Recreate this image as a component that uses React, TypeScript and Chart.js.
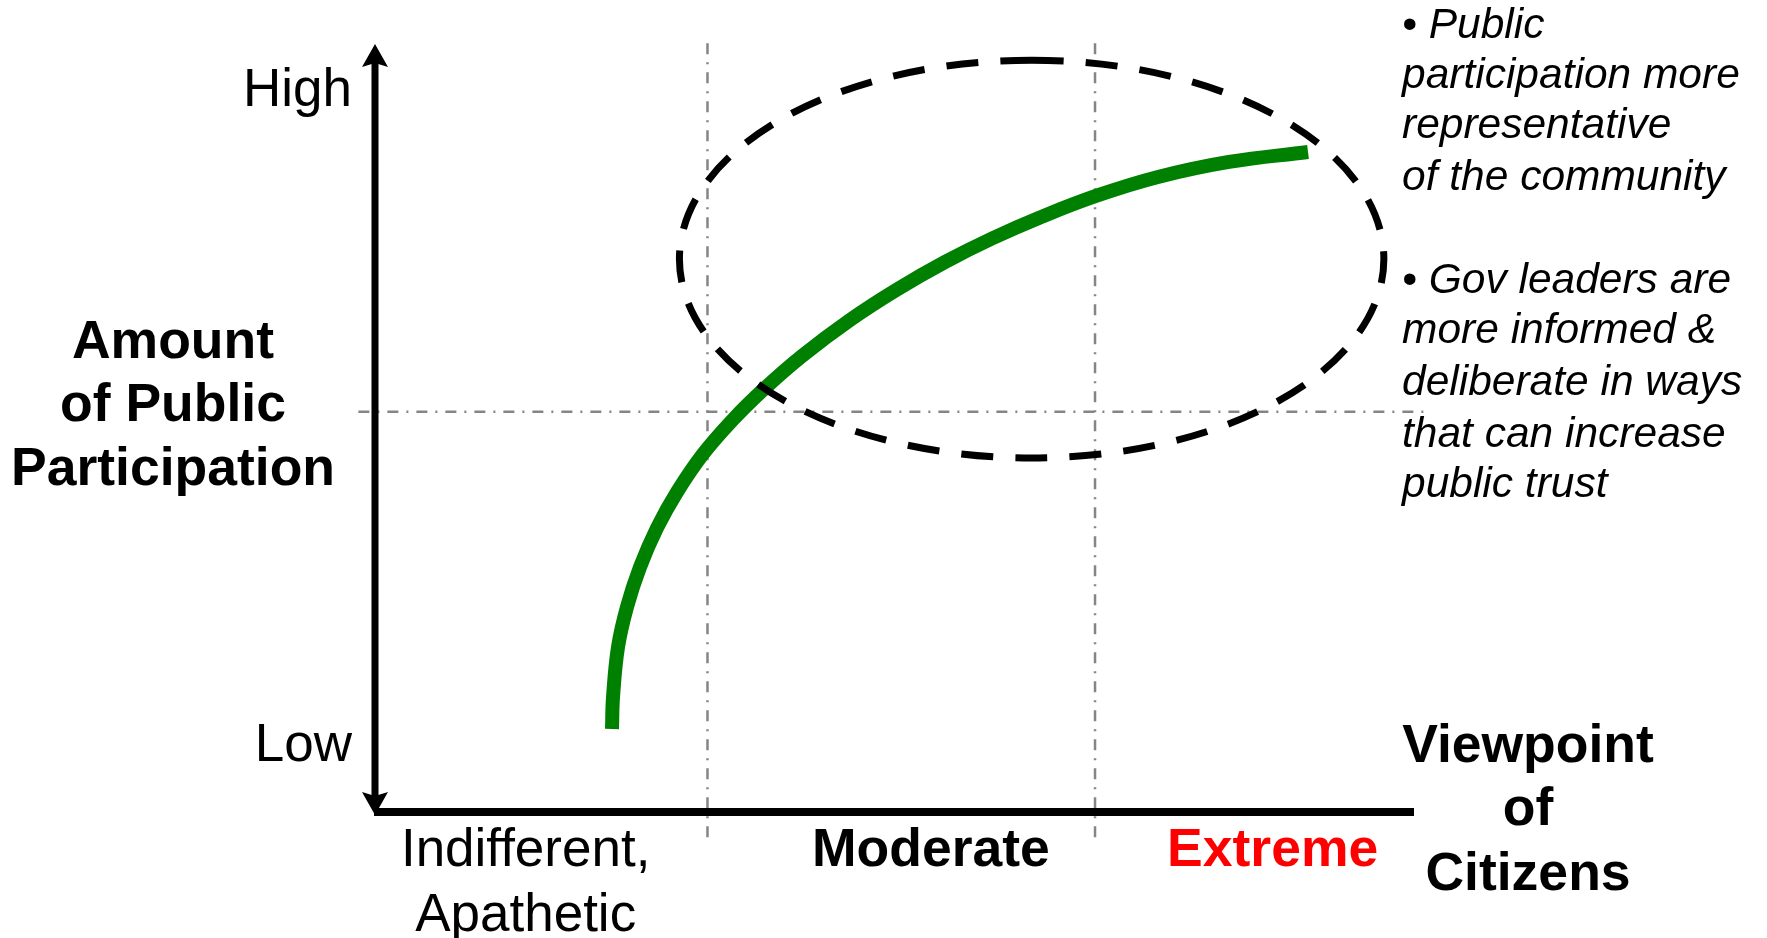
import React, { useEffect, useRef } from 'react';
import { Chart, registerables } from 'chart.js';

Chart.register(...registerables);

// ---- data ----
const curveX = [22.81, 22.91, 23.39, 24.25, 25.51, 27.14, 29.07, 31.57, 34.46, 37.44, 41.10, 45.72, 50.24, 54.86, 59.38, 64.00, 69.39, 75.36, 82.19, 89.80];
const curveY = [10.81, 14.97, 21.48, 26.69, 31.90, 36.98, 41.67, 46.61, 51.11, 55.08, 59.38, 64.06, 68.03, 71.61, 74.67, 77.41, 80.21, 82.68, 84.64, 85.94];

const guideXValues = [32, 69.3];
const guideXSpan = [-4.0, 100.1];
const guideYValues = [52.1];
const guideYSpan = [-1.6, 100.9];

const ellipseCenter = [63.2, 72.0];
const ellipseRadii = [33.9, 25.9];

const yTickLabels = ['High', 'Low'];
const yTickValues = [91.9, 6.6];

const categoryLabels = [['Indifferent,', 'Apathetic'], ['Moderate'], ['Extreme']];
const categoryCenters = [14.5, 53.5, 86.4];
const categoryColors = ['#000000', '#000000', '#ff0000'];
const categoryWeights = ['normal', 'bold', 'bold'];

const yTitleLines = ['Amount', 'of Public', 'Participation'];
const xTitleLines = ['Viewpoint', 'of', 'Citizens'];

const noteLines = [
  '• Public',
  'participation more',
  'representative',
  'of the community',
  '• Gov leaders are',
  'more informed &',
  'deliberate in ways',
  'that can increase',
  'public trust',
];

const FONT = '"Liberation Sans", Arial, Helvetica, sans-serif';

const overlayPlugin = {
  id: 'overlay',
  afterDatasetsDraw(chart: any) {
    const ctx: CanvasRenderingContext2D = chart.ctx;
    const xs = chart.scales.x;
    const ys = chart.scales.y;
    ctx.save();

    // dashed ellipse (seam at top, dashes merge there)
    const cx = xs.getPixelForValue(ellipseCenter[0]);
    const cy = ys.getPixelForValue(ellipseCenter[1]);
    const rx = xs.getPixelForValue(ellipseCenter[0] + ellipseRadii[0]) - cx;
    const ry = cy - ys.getPixelForValue(ellipseCenter[1] + ellipseRadii[1]);
    const per = Math.PI * (3 * (rx + ry) - Math.sqrt((3 * rx + ry) * (rx + 3 * ry)));
    const dash = 32;
    const n = Math.round((per - dash) / 54);
    const gap = (per - dash) / n - dash;
    ctx.beginPath();
    ctx.setLineDash([dash, gap]);
    ctx.lineDashOffset = 0;
    ctx.lineWidth = 7;
    ctx.strokeStyle = '#000';
    ctx.ellipse(cx, cy, rx, ry, 0, -Math.PI / 2, (3 * Math.PI) / 2);
    ctx.stroke();
    ctx.setLineDash([]);

    // axes with arrows
    const x0 = xs.getPixelForValue(0);
    const x1 = xs.getPixelForValue(100);
    const yT = ys.getPixelForValue(100);
    const yB = ys.getPixelForValue(0);
    ctx.fillStyle = '#000';
    ctx.strokeStyle = '#000';
    ctx.lineWidth = 7;
    ctx.beginPath();
    ctx.moveTo(x0, yT + 18);
    ctx.lineTo(x0, yB - 16);
    ctx.stroke();
    ctx.beginPath();
    ctx.moveTo(x0, yT);
    ctx.lineTo(x0 + 13, yT + 23);
    ctx.lineTo(x0, yT + 19);
    ctx.lineTo(x0 - 13, yT + 23);
    ctx.closePath();
    ctx.fill();
    ctx.beginPath();
    ctx.moveTo(x0, yB + 3);
    ctx.lineTo(x0 + 13, yB - 20);
    ctx.lineTo(x0, yB - 16);
    ctx.lineTo(x0 - 13, yB - 20);
    ctx.closePath();
    ctx.fill();
    ctx.lineWidth = 8;
    ctx.beginPath();
    ctx.moveTo(x0 - 1, yB);
    ctx.lineTo(x1, yB);
    ctx.stroke();

    // y tick labels
    ctx.textBaseline = 'alphabetic';
    ctx.font = `53px ${FONT}`;
    ctx.textAlign = 'right';
    yTickLabels.forEach((t, i) => {
      ctx.fillText(t, x0 - 23, ys.getPixelForValue(yTickValues[i]));
    });

    // y title
    ctx.font = `bold 53.5px ${FONT}`;
    ctx.textAlign = 'center';
    const yTitleBase = [358, 421, 485];
    yTitleLines.forEach((t, i) => ctx.fillText(t, 173, yTitleBase[i]));

    // categories
    categoryLabels.forEach((lines, i) => {
      ctx.font = `${categoryWeights[i]} ${categoryWeights[i] === 'bold' ? 53.5 : 53}px ${FONT}`;
      ctx.fillStyle = categoryColors[i];
      const px = xs.getPixelForValue(categoryCenters[i]);
      lines.forEach((t, j) => ctx.fillText(t, px, yB + 54 + j * 65));
    });

    // x title
    ctx.fillStyle = '#000';
    ctx.font = `bold 53.5px ${FONT}`;
    const xTitleBase = [762, 825, 890];
    xTitleLines.forEach((t, i) => ctx.fillText(t, 1528, xTitleBase[i]));

    // notes
    ctx.font = `italic 42.5px ${FONT}`;
    ctx.textAlign = 'left';
    const noteBase = [38, 88, 138, 190, 293, 343, 395, 447, 497];
    noteLines.forEach((t, i) => ctx.fillText(t, 1402, noteBase[i]));

    ctx.restore();
  },
};

export default function App() {
  const ref = useRef<HTMLCanvasElement | null>(null);

  useEffect(() => {
    if (!ref.current) return;
    const guideStyle = {
      borderColor: '#858585',
      borderWidth: 2.5,
      borderDash: [11, 8, 2, 8],
      pointRadius: 0,
      showLine: true,
      clip: false as any,
      tension: 0,
    };
    const datasets: any[] = [
      {
        label: 'participation',
        data: curveX.map((x, i) => ({ x, y: curveY[i] })),
        borderColor: '#008000',
        borderWidth: 14,
        borderCapStyle: 'butt',
        borderJoinStyle: 'round',
        pointRadius: 0,
        showLine: true,
        cubicInterpolationMode: 'default',
        tension: 0.4,
        clip: false,
      },
      ...guideXValues.map((gx) => ({
        ...guideStyle,
        label: 'vguide',
        data: [
          { x: gx, y: guideXSpan[1] },
          { x: gx, y: guideXSpan[0] },
        ],
      })),
      ...guideYValues.map((gy) => ({
        ...guideStyle,
        label: 'hguide',
        data: [
          { x: guideYSpan[0], y: gy },
          { x: guideYSpan[1], y: gy },
        ],
      })),
    ];
    const chart = new Chart(ref.current, {
      type: 'scatter',
      data: { datasets },
      options: {
        animation: false,
        responsive: false,
        maintainAspectRatio: false,
        layout: { padding: { left: 375, right: 353, top: 44, bottom: 126 } },
        scales: {
          x: { type: 'linear', min: 0, max: 100, display: false },
          y: { type: 'linear', min: 0, max: 100, display: false },
        },
        plugins: {
          legend: { display: false },
          tooltip: { enabled: false },
        },
        events: [],
      },
      plugins: [overlayPlugin],
    });
    return () => chart.destroy();
  }, []);

  return (
    <div style={{ position: 'fixed', left: 0, top: 0, width: 1767, height: 938, background: '#fff' }}>
      <canvas ref={ref} width={1767} height={938} style={{ width: 1767, height: 938, display: 'block' }} />
    </div>
  );
}
